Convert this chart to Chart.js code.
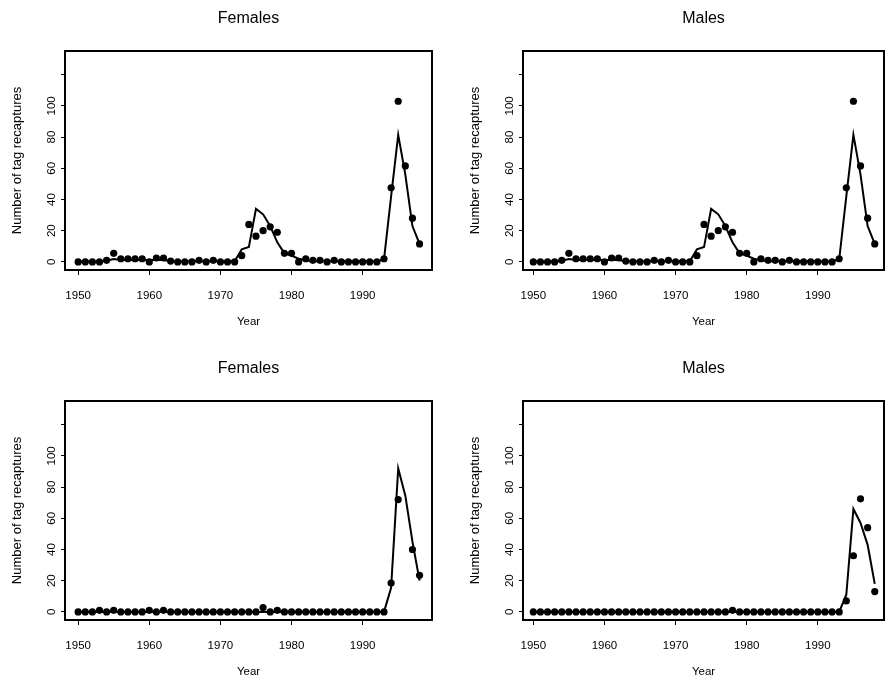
<!DOCTYPE html>
<html>
<head>
<meta charset="utf-8">
<script src="https://cdn.jsdelivr.net/npm/chart.js@4.4.0/dist/chart.umd.min.js"></script>
<style>
  html, body { margin: 0; padding: 0; background: #fff; overflow: hidden; }
  #wrap { position: relative; width: 888px; height: 683px; }
  canvas { position: absolute; }
</style>
</head>
<body>
<div id="wrap">
  <canvas id="topLeft" width="444" height="341" style="left:0px;top:0px"></canvas>
  <canvas id="topRight" width="444" height="341" style="left:444px;top:0px"></canvas>
  <canvas id="bottomLeft" width="444" height="341" style="left:0px;top:350px"></canvas>
  <canvas id="bottomRight" width="444" height="341" style="left:444px;top:350px"></canvas>
</div>
<script>
const years = [1950, 1951, 1952, 1953, 1954, 1955, 1956, 1957, 1958, 1959,
               1960, 1961, 1962, 1963, 1964, 1965, 1966, 1967, 1968, 1969,
               1970, 1971, 1972, 1973, 1974, 1975, 1976, 1977, 1978, 1979,
               1980, 1981, 1982, 1983, 1984, 1985, 1986, 1987, 1988, 1989,
               1990, 1991, 1992, 1993, 1994, 1995, 1996, 1997, 1998];

// observed recaptures (dots) and fitted values (line), per panel
const femalesTopObs = [0, 0, 0, 0, 1, 5.5, 2, 2, 2, 2,
                       0, 2.5, 2.5, 0.5, 0, 0, 0, 1, 0, 1,
                       0, 0, 0, 4, 24, 16.5, 20, 22.5, 19, 5.5,
                       5.5, 0, 2, 1, 1, 0, 1, 0, 0, 0,
                       0, 0, 0, 2, 47.5, 103, 61.5, 28, 11.5];
const femalesTopFit = [0.3, 0.3, 0.3, 0.3, 0.8, 1.8, 1.2, 1.2, 1.2, 1.2,
                       1.2, 1.2, 1.2, 0.4, 0.4, 0.4, 0.4, 0.4, 0.4, 0.4,
                       0.4, 0.4, 0.4, 8, 9.5, 34, 30.5, 23, 12.5, 5.5,
                       4, 2, 1, 0.4, 0.4, 0.4, 0.4, 0.4, 0.4, 0.4,
                       0.4, 0.4, 0.4, 1.5, 42, 81.5, 56, 23, 11.5];
const malesTopObs = [0, 0, 0, 0, 1, 5.5, 2, 2, 2, 2,
                     0, 2.5, 2.5, 0.5, 0, 0, 0, 1, 0, 1,
                     0, 0, 0, 4, 24, 16.5, 20, 22.5, 19, 5.5,
                     5.5, 0, 2, 1, 1, 0, 1, 0, 0, 0,
                     0, 0, 0, 2, 47.5, 103, 61.5, 28, 11.5];
const malesTopFit = [0.3, 0.3, 0.3, 0.3, 0.8, 1.8, 1.2, 1.2, 1.2, 1.2,
                     1.2, 1.2, 1.2, 0.4, 0.4, 0.4, 0.4, 0.4, 0.4, 0.4,
                     0.4, 0.4, 0.4, 8, 9.5, 34, 30.5, 23, 12.5, 5.5,
                     4, 2, 1, 0.4, 0.4, 0.4, 0.4, 0.4, 0.4, 0.4,
                     0.4, 0.4, 0.4, 1.5, 42, 81.5, 56, 23, 11.5];
const femalesBottomObs = [0, 0, 0, 1, 0, 1, 0, 0, 0, 0,
                          1, 0, 1, 0, 0, 0, 0, 0, 0, 0,
                          0, 0, 0, 0, 0, 0, 2.8, 0, 1, 0,
                          0, 0, 0, 0, 0, 0, 0, 0, 0, 0,
                          0, 0, 0, 0, 18.5, 72, null, 40, 23.5];
const femalesBottomFit = [0, 0, 0, 0, 0, 0, 0, 0, 0, 0,
                          0, 0, 0, 0, 0, 0, 0, 0, 0, 0,
                          0, 0, 0, 0, 0, 0, 0, 0, 0, 0,
                          0, 0, 0, 0, 0, 0, 0, 0, 0, 0,
                          0, 0, 0, 0, 15.5, 92, 74.5, 45, 20];
const malesBottomObs = [0, 0, 0, 0, 0, 0, 0, 0, 0, 0,
                        0, 0, 0, 0, 0, 0, 0, 0, 0, 0,
                        0, 0, 0, 0, 0, 0, 0, 0, 1, 0,
                        0, 0, 0, 0, 0, 0, 0, 0, 0, 0,
                        0, 0, 0, 0, 7, 36, 72.5, 54, 13];
const malesBottomFit = [0, 0, 0, 0, 0, 0, 0, 0, 0, 0,
                        0, 0, 0, 0, 0, 0, 0, 0, 0, 0,
                        0, 0, 0, 0, 0, 0, 0, 0, 0, 0,
                        0, 0, 0, 0, 0, 0, 0, 0, 0, 0,
                        0, 0, 0, 0, 11, 66, 57, 43, 18];

const xTicks = [1950, 1960, 1970, 1980, 1990];
const xTickLabels = ['1950', '1960', '1970', '1980', '1990'];
const yTicks = [0, 20, 40, 60, 80, 100, 120];
const yTickLabels = ['0', '20', '40', '60', '80', '100', ''];

const FONT = '"Liberation Sans", Arial, Helvetica, sans-serif';

// box around the plotting region
const frame = {
  id: 'frame',
  afterDraw(chart) {
    const { ctx, chartArea: a } = chart;
    ctx.save();
    ctx.strokeStyle = '#000';
    ctx.lineWidth = 2;
    ctx.strokeRect(a.left, a.top, a.right - a.left, a.bottom - a.top);
    ctx.restore();
  }
};

function pairs(vals) {
  return years.map((yr, i) => ({ x: yr, y: vals[i] })).filter(p => p.y !== null);
}

function makePanel(id, title, obs, fit, box, xMin, xMax) {
  const canvas = document.getElementById(id);
  const W = canvas.width, H = canvas.height;
  const axisFont = { family: FONT, size: 11.5 };
  const yTitleFont = { family: FONT, size: 13 };
  return new Chart(canvas, {
    type: 'scatter',
    data: {
      datasets: [
        { data: pairs(fit), showLine: true, borderColor: '#000', borderWidth: 2,
          pointRadius: 0, tension: 0 },
        { data: pairs(obs), showLine: false, pointRadius: 3.6,
          backgroundColor: '#000', borderColor: '#000', borderWidth: 0 }
      ]
    },
    options: {
      responsive: false,
      animation: false,
      events: [],
      layout: { padding: { left: 0, top: 0, right: W - box.right, bottom: 0 } },
      plugins: {
        legend: { display: false },
        tooltip: { enabled: false },
        title: {
          display: true, text: title, fullSize: false, color: '#000',
          font: { family: FONT, size: 16, weight: 'normal' },
          padding: { top: 9, bottom: box.top - 9 - 19.2 }
        }
      },
      scales: {
        x: {
          type: 'linear', min: xMin, max: xMax,
          afterFit: s => { s.height = H - box.bottom; },
          afterBuildTicks: s => { s.ticks = xTicks.map(v => ({ value: v })); },
          grid: { drawOnChartArea: false, drawTicks: true, tickLength: 5, color: '#000' },
          border: { display: false },
          ticks: { color: '#000', font: axisFont, padding: 14, maxRotation: 0, autoSkip: false,
                   callback: (v, i) => xTickLabels[i] },
          title: { display: true, text: 'Year', color: '#000', font: axisFont,
                   padding: { top: 0, bottom: 12 } }
        },
        y: {
          min: -5.2, max: 135.2,
          afterFit: s => { s.width = box.left; },
          afterBuildTicks: s => { s.ticks = yTicks.map(v => ({ value: v })); },
          grid: { drawOnChartArea: false, drawTicks: true, tickLength: 4, color: '#000' },
          border: { display: false },
          ticks: { color: '#000', font: axisFont, padding: 0, minRotation: 90, maxRotation: 90,
                   crossAlign: 'center', autoSkip: false,
                   callback: (v, i) => yTickLabels[i] },
          title: { display: true, text: 'Number of tag recaptures', color: '#000', font: yTitleFont,
                   padding: { top: box.left - 48 - 7.8, bottom: 0 } }
        }
      }
    },
    plugins: [frame]
  });
}

const leftBox = { left: 65, right: 432, top: 51, bottom: 270 };
const rightBox = { left: 79, right: 441, top: 51, bottom: 270 };

makePanel('topLeft', 'Females', femalesTopObs, femalesTopFit, leftBox, 1948.15, 1999.75);
makePanel('topRight', 'Males', malesTopObs, malesTopFit, rightBox, 1948.55, 1999.3);
makePanel('bottomLeft', 'Females', femalesBottomObs, femalesBottomFit, leftBox, 1948.15, 1999.75);
makePanel('bottomRight', 'Males', malesBottomObs, malesBottomFit, rightBox, 1948.55, 1999.3);
</script>
</body>
</html>
